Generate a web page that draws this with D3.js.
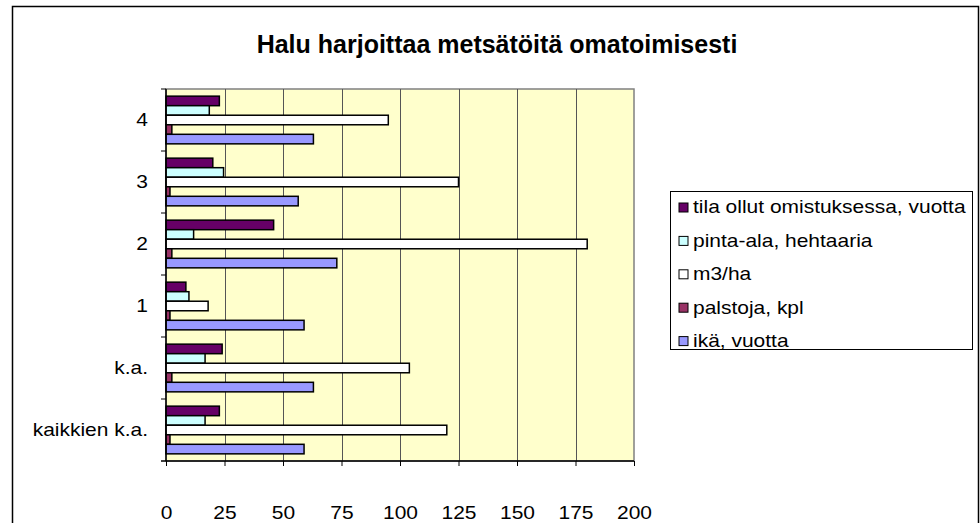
<!DOCTYPE html>
<html>
<head>
<meta charset="utf-8">
<script src="https://cdn.jsdelivr.net/npm/d3@7"></script>
<style>
  body { margin: 0; background: #fff; }
  text { font-family: "Liberation Sans", Arial, sans-serif; }
</style>
</head>
<body>
<script>
// categories, bottom to top as in the original chart
var categories = ["kaikkien k.a.", "k.a.", "1", "2", "3", "4"];

// series values (same order as categories)
var ika      = [59, 63, 59, 73, 56.5, 63];
var palstoja = [1.7, 2.5, 1.7, 2.5, 1.7, 2.5];
var m3ha     = [120, 104, 18, 180, 125, 95];
var pintaAla = [16.7, 16.7, 9.8, 11.8, 24.6, 18.5];
var tila     = [22.8, 24, 8.5, 46, 20, 22.8];

var seriesNames = ["tila ollut omistuksessa, vuotta", "pinta-ala, hehtaaria", "m3/ha", "palstoja, kpl", "ikä, vuotta"];
var seriesValues = [tila, pintaAla, m3ha, palstoja, ika];
var seriesColors = ["#660066", "#ccffff", "#ffffff", "#993366", "#9999ff"];
var xTicks = [0, 25, 50, 75, 100, 125, 150, 175, 200];

var W = 980, H = 523;
var plot = {left: 166, right: 634, top: 89, bottom: 461};
var fs = 18, sx = 1.165;   // text in the original is a bit wide

var svg = d3.select("body").append("svg")
    .attr("width", W)
    .attr("height", H);

// outer chart frame
svg.append("rect")
    .attr("x", 12.5).attr("y", 6.5)
    .attr("width", 966).attr("height", 540)
    .attr("fill", "#fff")
    .attr("stroke", "#000")
    .attr("stroke-width", 1.5);

// title
svg.append("text")
    .attr("x", 497).attr("y", 53)
    .attr("text-anchor", "middle")
    .style("font-size", "25px")
    .style("font-weight", "bold")
    .text("Halu harjoittaa metsätöitä omatoimisesti");

// scales
var x = d3.scaleLinear().domain([0, 200]).range([plot.left, plot.right]);
var y0 = d3.scaleBand().domain(categories).range([plot.bottom, plot.top]);
var y1 = d3.scaleBand().domain(d3.range(seriesNames.length))
    .range([0, y0.bandwidth()])
    .paddingOuter(0.75);

// plot background
svg.append("rect")
    .attr("x", plot.left).attr("y", plot.top)
    .attr("width", plot.right - plot.left)
    .attr("height", plot.bottom - plot.top)
    .attr("fill", "#ffffcc")
    .attr("stroke", "#808080")
    .attr("stroke-width", 1.5);

// gridlines
svg.append("g")
    .selectAll("line")
    .data(xTicks.slice(1, -1))
    .enter().append("line")
    .attr("x1", function(d) { return Math.round(x(d)) + 0.5; })
    .attr("x2", function(d) { return Math.round(x(d)) + 0.5; })
    .attr("y1", plot.top)
    .attr("y2", plot.bottom)
    .attr("stroke", "#555")
    .attr("stroke-width", 1);

// bars
var groups = svg.append("g")
    .selectAll("g")
    .data(categories)
    .enter().append("g")
    .attr("transform", function(d) { return "translate(0," + y0(d) + ")"; });

groups.selectAll("rect")
    .data(function(c, ci) {
        return seriesValues.map(function(vals, si) { return {si: si, v: vals[ci]}; });
    })
    .enter().append("rect")
    .attr("x", x(0))
    .attr("y", function(d) { return y1(d.si); })
    .attr("width", function(d) { return x(d.v) - x(0); })
    .attr("height", y1.bandwidth())
    .attr("fill", function(d) { return seriesColors[d.si]; })
    .attr("stroke", "#000")
    .attr("stroke-width", 1.5);

// x axis
var xAxis = svg.append("g")
    .attr("transform", "translate(0," + plot.bottom + ")")
    .call(d3.axisBottom(x).tickValues(xTicks).tickSize(5).tickSizeOuter(0));
xAxis.select(".domain").attr("stroke", "#000").attr("stroke-width", 1.5)
    .attr("d", "M" + (plot.left - 5) + ",0H" + plot.right);
xAxis.selectAll(".tick line").attr("stroke", "#000");
xAxis.selectAll("text")
    .attr("x", null).attr("y", null).attr("dy", null)
    .attr("transform", "translate(0,58) scale(" + sx + ",1)")
    .style("font-size", fs + "px")
    .attr("fill", "#000");

// y axis
var yAxis = svg.append("g")
    .attr("transform", "translate(" + plot.left + ",0)")
    .call(d3.axisLeft(y0).tickSize(0));
yAxis.select(".domain").attr("stroke", "#000").attr("stroke-width", 1.5)
    .attr("d", "M0," + plot.top + "V" + plot.bottom);
yAxis.selectAll("text")
    .attr("x", null)
    .attr("transform", "translate(-18,0) scale(" + sx + ",1)")
    .style("font-size", fs + "px")
    .attr("fill", "#000");
// category separator ticks
svg.append("g")
    .selectAll("line")
    .data(categories)
    .enter().append("line")
    .attr("x1", plot.left - 5).attr("x2", plot.left)
    .attr("y1", function(d) { return y0(d); })
    .attr("y2", function(d) { return y0(d); })
    .attr("stroke", "#000");

// legend
var legend = svg.append("g");
legend.append("rect")
    .attr("x", 670.5).attr("y", 191.5)
    .attr("width", 302).attr("height", 158)
    .attr("fill", "#fff")
    .attr("stroke", "#000");

var items = legend.selectAll("g.item")
    .data(seriesNames)
    .enter().append("g")
    .attr("class", "item")
    .attr("transform", function(d, i) { return "translate(679," + (207 + i * 33.4) + ")"; });
items.append("rect")
    .attr("x", 0).attr("y", -4)
    .attr("width", 9).attr("height", 9)
    .attr("fill", function(d, i) { return seriesColors[i]; })
    .attr("stroke", "#000");
items.append("text")
    .attr("transform", "translate(14,0) scale(" + sx + ",1)")
    .attr("dy", "0.35em")
    .style("font-size", fs + "px")
    .text(function(d) { return d; });
</script>
</body>
</html>
